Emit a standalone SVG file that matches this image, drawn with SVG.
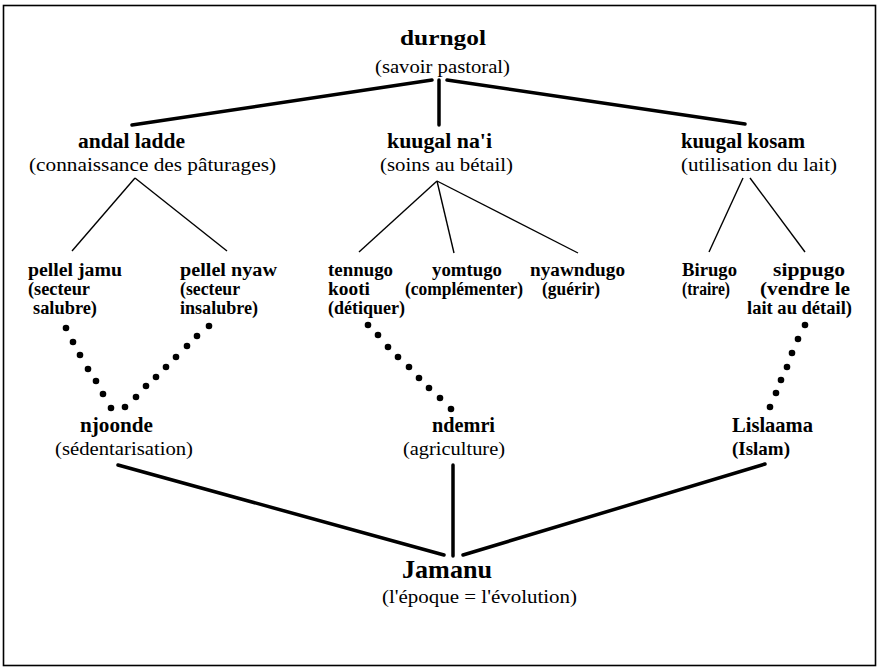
<svg xmlns="http://www.w3.org/2000/svg" width="879" height="669" viewBox="0 0 879 669">
<style>
text{font-family:"Liberation Serif","Times New Roman",serif;fill:#000}
.b{font-weight:bold}
.t1{font-size:22px}
.t2{font-size:20px}
.t3{font-size:18px}
.r2{font-size:19px}
.thick{stroke:#000;stroke-width:3.5;fill:none;stroke-linecap:round}
.thin{stroke:#000;stroke-width:1.4;fill:none}
.dot{fill:#000}
</style>
<rect x="3.5" y="5.5" width="872" height="660" fill="#fff" stroke="#000" stroke-width="1.6"/>
<g id="connectors">
<line class="thick" x1="432" y1="80" x2="132" y2="125"/>
<line class="thick" x1="439" y1="80" x2="439" y2="125"/>
<line class="thick" x1="447" y1="80" x2="745" y2="124"/>
<line class="thin" x1="135" y1="178" x2="72" y2="251"/>
<line class="thin" x1="135" y1="178" x2="227" y2="251"/>
<line class="thin" x1="437" y1="181" x2="359" y2="252"/>
<line class="thin" x1="437" y1="181" x2="454" y2="253"/>
<line class="thin" x1="437" y1="181" x2="578" y2="253"/>
<line class="thin" x1="743" y1="178" x2="709" y2="252"/>
<line class="thin" x1="750" y1="178" x2="805" y2="252"/>
<g id="dots">
<circle class="dot" cx="66" cy="328" r="3.3"/><circle class="dot" cx="73" cy="342" r="3.3"/><circle class="dot" cx="80" cy="355" r="3.3"/><circle class="dot" cx="88" cy="369" r="3.3"/><circle class="dot" cx="96" cy="381" r="3.3"/><circle class="dot" cx="103" cy="394" r="3.3"/><circle class="dot" cx="111" cy="408" r="3.3"/>
<circle class="dot" cx="125" cy="407" r="3.3"/><circle class="dot" cx="136" cy="397" r="3.3"/><circle class="dot" cx="146" cy="386" r="3.3"/><circle class="dot" cx="156" cy="377" r="3.3"/><circle class="dot" cx="166" cy="367" r="3.3"/><circle class="dot" cx="176" cy="357" r="3.3"/><circle class="dot" cx="187" cy="346" r="3.3"/><circle class="dot" cx="197" cy="336" r="3.3"/><circle class="dot" cx="209" cy="326" r="3.3"/>
<circle class="dot" cx="368" cy="325" r="3.3"/><circle class="dot" cx="378" cy="335" r="3.3"/><circle class="dot" cx="388" cy="347" r="3.3"/><circle class="dot" cx="398" cy="357" r="3.3"/><circle class="dot" cx="409" cy="367" r="3.3"/><circle class="dot" cx="419" cy="378" r="3.3"/><circle class="dot" cx="429" cy="388" r="3.3"/><circle class="dot" cx="440" cy="398" r="3.3"/><circle class="dot" cx="451" cy="409" r="3.3"/>
<circle class="dot" cx="805" cy="325" r="3.3"/><circle class="dot" cx="798" cy="339" r="3.3"/><circle class="dot" cx="792" cy="353" r="3.3"/><circle class="dot" cx="787" cy="367" r="3.3"/><circle class="dot" cx="781" cy="380" r="3.3"/><circle class="dot" cx="776" cy="393" r="3.3"/><circle class="dot" cx="770" cy="407" r="3.3"/>
</g>
<line class="thick" x1="118" y1="465" x2="444" y2="555"/>
<line class="thick" x1="453" y1="465" x2="453" y2="556"/>
<line class="thick" x1="463" y1="555" x2="765" y2="464"/>
</g>
<g id="durngol">
<text class="b t1" x="400" y="45" textLength="86" lengthAdjust="spacingAndGlyphs">durngol</text>
<text class="r2" x="375" y="73" textLength="135" lengthAdjust="spacingAndGlyphs">(savoir pastoral)</text>
</g>
<g id="andal-ladde">
<text class="b t2" x="78" y="148" textLength="107" lengthAdjust="spacingAndGlyphs">andal ladde</text>
<text class="r2" x="29" y="171" textLength="247" lengthAdjust="spacingAndGlyphs">(connaissance des pâturages)</text>
</g>
<g id="kuugal-nai">
<text class="b t2" x="387" y="148" textLength="105" lengthAdjust="spacingAndGlyphs">kuugal na'i</text>
<text class="r2" x="380" y="171" textLength="133" lengthAdjust="spacingAndGlyphs">(soins au bétail)</text>
</g>
<g id="kuugal-kosam">
<text class="b t2" x="681" y="148" textLength="124" lengthAdjust="spacingAndGlyphs">kuugal kosam</text>
<text class="r2" x="681" y="171" textLength="156" lengthAdjust="spacingAndGlyphs">(utilisation du lait)</text>
</g>
<g id="pellel-jamu">
<text class="b t3" x="28" y="276" textLength="94" lengthAdjust="spacingAndGlyphs">pellel jamu</text>
<text class="b t3" x="28" y="295" textLength="62" lengthAdjust="spacingAndGlyphs">(secteur</text>
<text class="b t3" x="33" y="314" textLength="64" lengthAdjust="spacingAndGlyphs">salubre)</text>
</g>
<g id="pellel-nyaw">
<text class="b t3" x="180" y="276" textLength="97" lengthAdjust="spacingAndGlyphs">pellel nyaw</text>
<text class="b t3" x="180" y="295" textLength="60" lengthAdjust="spacingAndGlyphs">(secteur</text>
<text class="b t3" x="180" y="314" textLength="78" lengthAdjust="spacingAndGlyphs">insalubre)</text>
</g>
<g id="tennugo-kooti">
<text class="b t3" x="328" y="276" textLength="65" lengthAdjust="spacingAndGlyphs">tennugo</text>
<text class="b t3" x="328" y="295" textLength="42" lengthAdjust="spacingAndGlyphs">kooti</text>
<text class="b t3" x="328" y="314" textLength="77" lengthAdjust="spacingAndGlyphs">(détiquer)</text>
</g>
<g id="yomtugo">
<text class="b t3" x="432" y="276" textLength="70" lengthAdjust="spacingAndGlyphs">yomtugo</text>
<text class="b t3" x="405" y="295" textLength="118" lengthAdjust="spacingAndGlyphs">(complémenter)</text>
</g>
<g id="nyawndugo">
<text class="b t3" x="530" y="276" textLength="95" lengthAdjust="spacingAndGlyphs">nyawndugo</text>
<text class="b t3" x="542" y="295" textLength="58" lengthAdjust="spacingAndGlyphs">(guérir)</text>
</g>
<g id="birugo">
<text class="b t3" x="682" y="276" textLength="55" lengthAdjust="spacingAndGlyphs">Birugo</text>
<text class="b t3" x="682" y="295" textLength="48" lengthAdjust="spacingAndGlyphs">(traire)</text>
</g>
<g id="sippugo">
<text class="b t3" x="773" y="276" textLength="72" lengthAdjust="spacingAndGlyphs">sippugo</text>
<text class="b t3" x="760" y="295" textLength="90" lengthAdjust="spacingAndGlyphs">(vendre le</text>
<text class="b t3" x="747" y="314" textLength="105" lengthAdjust="spacingAndGlyphs">lait au détail)</text>
</g>
<g id="njoonde">
<text class="b t2" x="80" y="432" textLength="73" lengthAdjust="spacingAndGlyphs">njoonde</text>
<text class="r2" x="55" y="455" textLength="138" lengthAdjust="spacingAndGlyphs">(sédentarisation)</text>
</g>
<g id="ndemri">
<text class="b t2" x="432" y="432" textLength="63" lengthAdjust="spacingAndGlyphs">ndemri</text>
<text class="r2" x="403" y="455" textLength="102" lengthAdjust="spacingAndGlyphs">(agriculture)</text>
</g>
<g id="lislaama">
<text class="b t2" x="732" y="432" textLength="81" lengthAdjust="spacingAndGlyphs">Lislaama</text>
<text class="b r2" x="732" y="455" textLength="58" lengthAdjust="spacingAndGlyphs">(Islam)</text>
</g>
<g id="jamanu">
<text class="b" style="font-size:25px" x="402" y="578" textLength="90" lengthAdjust="spacingAndGlyphs">Jamanu</text>
<text class="r2" x="382" y="603" textLength="195" lengthAdjust="spacingAndGlyphs">(l'époque = l'évolution)</text>
</g>
</svg>
